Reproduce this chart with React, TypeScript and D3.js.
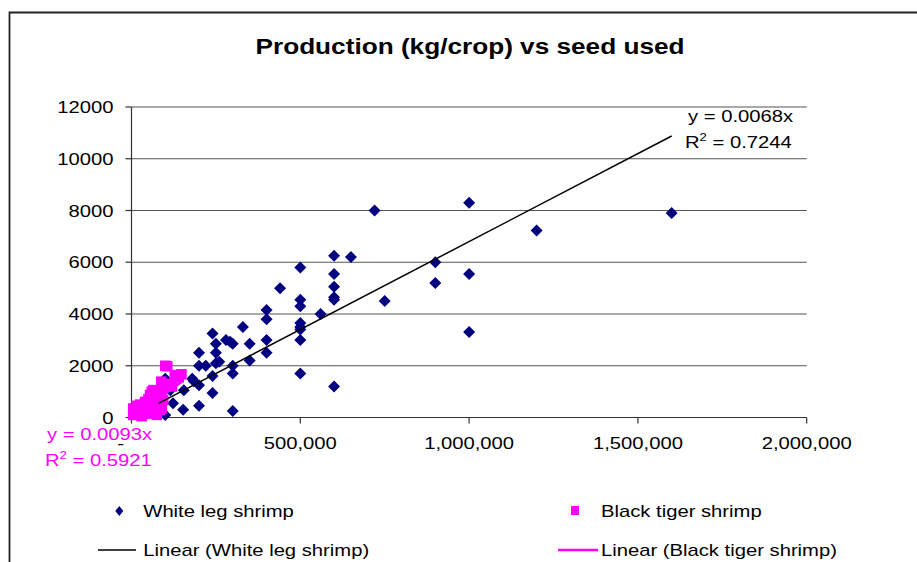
import React from "react";
import * as d3 from "d3";

// ---- Data ----
const whiteSeed = [
  720000, 600000, 650000, 500000, 600000, 440000, 600000, 600000, 600000, 500000,
  500000, 750000, 560000, 500000, 500000, 500000, 500000, 500000, 600000, 900000,
  900000, 1000000, 1000000, 1000000, 1200000, 1600000, 400000, 400000, 330000, 400000,
  400000, 350000, 350000, 240000, 280000, 292000, 300000, 250000, 250000, 200000,
  200000, 220000, 250000, 260000, 300000, 300000, 180000, 200000, 240000, 240000,
  200000, 300000, 155000, 153000, 185000, 123000, 100000, 95000, 80000, 115000,
  100000,
];
const whiteProd = [
  8000, 6250, 6200, 5800, 5550, 5000, 5050, 4650, 4550, 4550,
  4300, 4500, 4000, 3650, 3500, 3400, 3000, 1700, 1200, 6000,
  5200, 8300, 5550, 3300, 7230, 7900, 4150, 3800, 3500, 3000,
  2500, 2850, 2200, 3250, 3000, 2930, 2850, 2850, 2500, 2500,
  2000, 2000, 2100, 2150, 2000, 1700, 1500, 1250, 1600, 950,
  450, 250, 1050, 300, 1400, 550, 100, 1400, 1100, 1050,
  1500,
];

const tigerSeed = [
  100000, 106000, 128000, 148000, 140000, 88000, 114000, 120000, 60000, 65000,
  89000, 94000, 55000, 50000, 60000, 45000, 80000, 89000, 84000, 90000,
  40000, 30000, 20000, 25000, 15000, 10000, 35000, 20000, 45000, 55000,
  60000, 70000, 75000, 5000, 30000, 50000, 10000, 40000, 70000, 65000,
  5000, 15000, 25000, 35000,
];
const tigerProd = [
  2000, 1980, 1640, 1670, 1550, 1385, 1300, 1200, 1000, 1060,
  1000, 680, 870, 700, 650, 600, 700, 420, 290, 350,
  450, 400, 350, 250, 200, 300, 150, 100, 200, 250,
  150, 250, 100, 100, 50, 550, 150, 600, 800, 450,
  350, 450, 500, 300,
];

const whiteSlope = 0.0068;
const tigerSlope = 0.0093;

const yTicks = [0, 2000, 4000, 6000, 8000, 10000, 12000];
const yTickLabels = ["0", "2000", "4000", "6000", "8000", "10000", "12000"];
const xTicks = [0, 500000, 1000000, 1500000, 2000000];
const xTickLabels = ["-", "500,000", "1,000,000", "1,500,000", "2,000,000"];

const title = "Production (kg/crop) vs seed used";
const seriesNames = ["White leg shrimp", "Black tiger shrimp"];
const trendNames = ["Linear (White leg shrimp)", "Linear (Black tiger shrimp)"];
const whiteEq = ["y = 0.0068x", "R", "2", " = 0.7244"];
const tigerEq = ["y = 0.0093x", "R", "2", " = 0.5921"];

const NAVY = "#000080";
const PINK = "#FF00FF";
const FONT = "'Liberation Sans', Arial, Helvetica, sans-serif";
const SX = 1.19;

function Txt(props: {
  x: number;
  y: number;
  anchor?: "start" | "middle" | "end";
  size?: number;
  bold?: boolean;
  fill?: string;
  children?: React.ReactNode;
}) {
  const { x, y, anchor = "start", size = 17, bold = false, fill = "#000", children } = props;
  return (
    <text
      transform={`translate(${x},${y}) scale(${SX},1)`}
      textAnchor={anchor}
      fill={fill}
      style={{ fontFamily: FONT, fontSize: size, fontWeight: bold ? "bold" : "normal" }}
    >
      {children}
    </text>
  );
}

export default function App() {
  const x = d3.scaleLinear().domain([0, 2000000]).range([131.5, 806.7]);
  const y = d3.scaleLinear().domain([0, 12000]).range([417.5, 107]);

  const line = d3.line<[number, number]>()
    .x((d) => x(d[0]))
    .y((d) => y(d[1]));

  const wMin = d3.min(whiteSeed) as number;
  const wMax = d3.max(whiteSeed) as number;
  const tMin = d3.min(tigerSeed) as number;
  const tMax = d3.max(tigerSeed) as number;

  const whiteTrend = line([[wMin, wMin * whiteSlope], [wMax, wMax * whiteSlope]]) || "";
  const tigerTrend = line([[tMin, tMin * tigerSlope], [tMax, tMax * tigerSlope]]) || "";

  const diamond = "M0,-6L6,0L0,6L-6,0Z";
  const x0 = x(0);
  const x1 = x(2000000);
  const yBase = y(0);
  const sq = 10.5;

  return (
    <svg
      width={917}
      height={562}
      style={{ position: "absolute", left: 0, top: 0, background: "#fff" }}
    >
      <rect x={0} y={0} width={917} height={562} fill="#fff" />
      {/* frame */}
      <path d="M9.5,562 L9.5,12.5 L917,12.5" fill="none" stroke="#222" strokeWidth={1.8} />

      {/* title */}
      <Txt x={470} y={54} anchor="middle" size={22} bold>
        {title}
      </Txt>

      {/* gridlines */}
      {yTicks.slice(1).map((t) => (
        <line key={"g" + t} x1={x0} x2={x1} y1={y(t)} y2={y(t)} stroke="#555" strokeWidth={1.2} />
      ))}

      {/* y axis */}
      <line x1={x0} x2={x0} y1={y(12000)} y2={yBase} stroke="#333" strokeWidth={1.2} />
      {yTicks.map((t, i) => (
        <g key={"yt" + t}>
          <line x1={x0 - 6} x2={x0} y1={y(t)} y2={y(t)} stroke="#333" strokeWidth={1.2} />
          <Txt x={113.5} y={y(t) + 6} anchor="end">
            {yTickLabels[i]}
          </Txt>
        </g>
      ))}

      {/* x axis */}
      <line x1={x0} x2={x1} y1={yBase} y2={yBase} stroke="#333" strokeWidth={1.2} />
      {xTicks.map((t, i) => (
        <g key={"xt" + t}>
          <line x1={x(t)} x2={x(t)} y1={yBase} y2={yBase + 6} stroke="#333" strokeWidth={1.2} />
          <Txt x={x(t) + (i === 0 ? -11 : 0)} y={449} anchor="middle">
            {xTickLabels[i]}
          </Txt>
        </g>
      ))}

      {/* white leg diamonds */}
      {whiteSeed.map((s, i) => (
        <path
          key={"w" + i}
          d={diamond}
          transform={`translate(${x(s)},${y(whiteProd[i])})`}
          fill={NAVY}
        />
      ))}

      {/* black tiger squares */}
      {tigerSeed.map((s, i) => (
        <rect
          key={"t" + i}
          x={x(s) - sq / 2}
          y={y(tigerProd[i]) - sq / 2}
          width={sq}
          height={sq}
          fill={PINK}
        />
      ))}

      {/* trendlines */}
      <path d={tigerTrend} stroke={PINK} strokeWidth={2.5} fill="none" />
      <path d={whiteTrend} stroke="#000" strokeWidth={1.5} fill="none" />

      {/* equations */}
      <Txt x={688} y={121.5}>{whiteEq[0]}</Txt>
      <Txt x={685} y={148.3}>
        {whiteEq[1]}
        <tspan dy={-7} style={{ fontSize: 11 }}>{whiteEq[2]}</tspan>
        <tspan dy={7}>{whiteEq[3]}</tspan>
      </Txt>
      <Txt x={47} y={440} fill={PINK}>{tigerEq[0]}</Txt>
      <Txt x={45} y={465.7} fill={PINK}>
        {tigerEq[1]}
        <tspan dy={-7} style={{ fontSize: 11 }}>{tigerEq[2]}</tspan>
        <tspan dy={7}>{tigerEq[3]}</tspan>
      </Txt>

      {/* legend */}
      <path d="M0,-5L4,0L0,5L-4,0Z" transform="translate(119.3,511)" fill={NAVY} />
      <Txt x={143.3} y={517}>{seriesNames[0]}</Txt>
      <rect x={571} y={506} width={8} height={9} fill={PINK} />
      <Txt x={601} y={517}>{seriesNames[1]}</Txt>

      <line x1={98} x2={136} y1={550} y2={550} stroke="#000" strokeWidth={1.5} />
      <Txt x={143.3} y={555.5}>{trendNames[0]}</Txt>
      <line x1={558} x2={598} y1={550} y2={550} stroke={PINK} strokeWidth={2.5} />
      <Txt x={601} y={555.5}>{trendNames[1]}</Txt>
    </svg>
  );
}
